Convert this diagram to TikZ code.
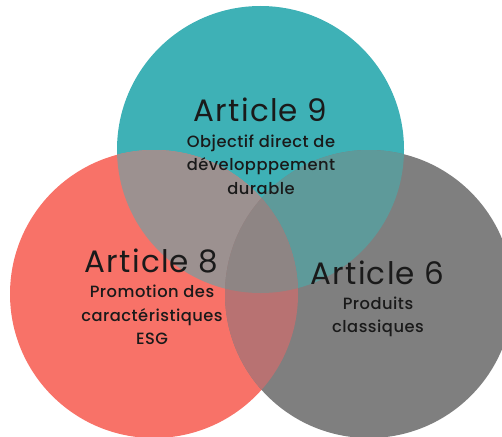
\documentclass[tikz,border=0pt]{standalone}
\usepackage{fontspec}
\setmainfont{Poppins}
\newfontfamily\titlefont{Poppins}[LetterSpace=4]
\IfFontExistsTF{Poppins Medium}{\newfontfamily\subfont{Poppins Medium}[LetterSpace=3]}{\newfontfamily\subfont{Poppins}[LetterSpace=3]}
\definecolor{artnine}{HTML}{3EB1B6}
\definecolor{arteight}{HTML}{F87268}
\definecolor{artsix}{HTML}{7F7F7F}
\definecolor{nineeight}{HTML}{9C9190}
\definecolor{ninesix}{HTML}{5E9A9A}
\definecolor{eightsix}{HTML}{B87272}
\definecolor{allthree}{HTML}{8E8584}
\definecolor{labeltext}{HTML}{1A1A1A}

\begin{document}
\begin{tikzpicture}[
    % Global options: pixel units, y pointing down
    x=1pt, y=-1pt,
    title/.style={font=\titlefont\fontsize{31}{34}\selectfont, text=labeltext,
      anchor=base, inner sep=0pt},
    subtitle/.style={font=\subfont\fontsize{16.3}{23.5}\selectfont, text=labeltext,
      align=center, anchor=north, inner sep=0pt},
  ]
    \useasboundingbox (0,0) rectangle (502,436);
    \clip (0,0) rectangle (502,436);

    \def\nine{(260.5,149.5) circle[radius=143.5pt]}
    \def\eight{(154,294) circle[radius=144pt]}
    \def\six{(369,294) circle[radius=144pt]}

    % --- The three circles ---
    \fill[artnine] \nine;
    \fill[arteight] \eight;
    \fill[artsix] \six;

    % --- Overlaps ---
    \begin{scope}
      \clip \nine;
      \fill[nineeight] \eight;
      \fill[ninesix] \six;
    \end{scope}
    \begin{scope}
      \clip \eight;
      \fill[eightsix] \six;
      \clip \six;
      \fill[allthree] \nine;
    \end{scope}

    % --- Labels ---
    \node[title] (art9) at (260.5,121) {Article 9};
    \node[subtitle] (art9sub) at (261,134.5)
      {Objectif direct de\\développpement\\durable};

    \node[title] (art8) at (151.5,272) {Article 8};
    \node[subtitle] (art8sub) at (152,285)
      {Promotion des\\caractéristiques\\ESG};

    \node[title] (art6) at (377.5,284) {Article 6};
    \node[subtitle] (art6sub) at (378,296.5) {Produits\\classiques};
  \end{tikzpicture}
\end{document}
